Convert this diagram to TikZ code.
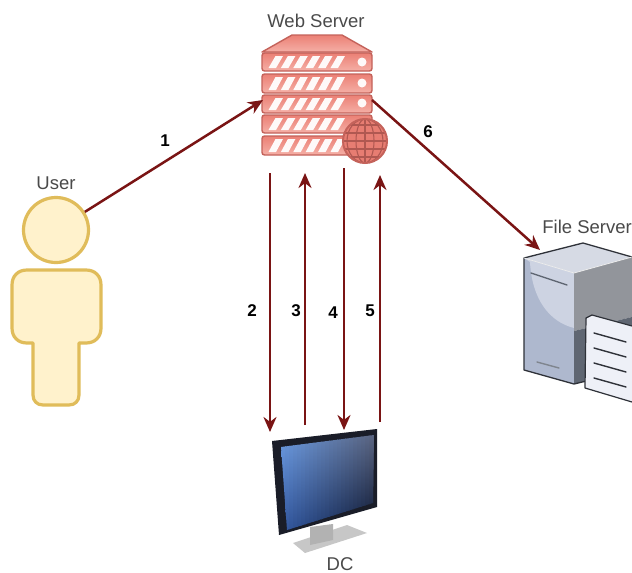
\documentclass[tikz,border=0pt]{standalone}
\usepackage{fontspec}
\setmainfont{Liberation Sans}
\usetikzlibrary{arrows.meta}
\definecolor{arrowred}{HTML}{7A1414}
\definecolor{srvtop}{HTML}{EB8075}
\definecolor{srvbot}{HTML}{F5AFA6}
\definecolor{srvline}{HTML}{C4625A}
\definecolor{usrfill}{HTML}{FFF2CC}
\definecolor{usrline}{HTML}{E0BC5A}
\definecolor{lbl}{HTML}{4A4A4A}
\definecolor{fstop}{HTML}{D6DAE4}
\definecolor{fsleft}{HTML}{AEB8CE}
\definecolor{fshigh}{HTML}{CDD3E2}
\definecolor{fsright}{HTML}{92959B}
\definecolor{fsdark}{HTML}{5F6672}
\definecolor{fsedge}{HTML}{2E3138}
\definecolor{paper}{HTML}{EEF0F7}
\definecolor{bezel}{HTML}{1A1D28}
\definecolor{scrUL}{HTML}{6C9BE0}
\definecolor{scrUR}{HTML}{5A6480}
\definecolor{scrLL}{HTML}{3358A0}
\definecolor{scrLR}{HTML}{0A1530}
\tikzset{
  flow/.style={draw=arrowred,line width=2.5pt,-{Stealth[length=15pt,width=13pt]}},
  lab/.style={text=lbl,font=\fontsize{18.5}{20}\selectfont,inner sep=0pt},
  num/.style={text=black,font=\fontsize{17}{20}\selectfont\bfseries,inner sep=0pt},
  slab/.style={draw=srvline,line width=1.4pt,rounded corners=2.5pt,top color=srvtop,bottom color=srvbot},
  usr/.style={draw=usrline,fill=usrfill,line width=3.2pt},
  ink/.style={draw=fsedge,line width=1.4pt,line cap=round},
}
\newcommand{\slabrow}[2]{%
  \draw[slab] (262,#1) rectangle (372,#2);
  \foreach \k in {0,...,5}
    \fill[white,opacity=.95] ({268.5+\k*12.4},#2-3) -- ({276+\k*12.4},#2-3) -- ({283+\k*12.4},#1+3) -- ({275.5+\k*12.4},#1+3) -- cycle;
}
\begin{document}
\begin{tikzpicture}[x=1pt,y=-1pt]
\useasboundingbox (0,0) rectangle (632,573);
\clip (0,0) rectangle (632,573);
\fill[white] (0,0) rectangle (632,573);
% User
\node[usr,circle,minimum size=65pt,inner sep=0pt] (userhead) at (56,230) {};
\draw[usr,line join=round] (33,343) -- (27,343) .. controls (18,343) and (12,337) .. (12,328) -- (12,285) .. controls (12,276) and (18,270) .. (27,270) -- (86,270) .. controls (95,270) and (101,276) .. (101,285) -- (101,328) .. controls (101,337) and (95,343) .. (86,343) -- (79,343) -- (79,395) .. controls (79,401) and (75,405) .. (69,405) -- (43,405) .. controls (37,405) and (33,401) .. (33,395) -- cycle;
\node[lab] (userlabel) at (56,183) {User};
% Web server
\draw[slab,sharp corners,line join=round] (262,52) -- (292,35) -- (342,35) -- (372,52) -- cycle;
\slabrow{53}{71}
\slabrow{74}{93}
\slabrow{95}{113}
\slabrow{115}{133}
\slabrow{136}{155}
\fill[white,opacity=.95] (362,62) circle (4.5) (362,83) circle (4.5) (362,103) circle (4.5);
\fill[srvtop!90!srvline] (365,141) circle (22);
\begin{scope}
  \clip (365,141) circle (22);
  \foreach \d in {-16,-8,0,8,16} \draw[srvline!90!black,line width=1.1pt] (343,141+\d) -- (387,141+\d);
  \draw[srvline!90!black,line width=1.1pt] (365,119) -- (365,163);
  \foreach \w in {9,18} \draw[srvline!90!black,line width=1.1pt] (365,141) ellipse ({\w} and 22);
\end{scope}
\draw[srvline,line width=2pt] (365,141) circle (22);
\node[lab] (weblabel) at (316,21) {Web Server};
\coordinate (webL) at (263,100);
\coordinate (webR) at (372,100);
% File server
\fill[fstop] (524,258) -- (583,243) -- (632,257) -- (574,273) -- cycle;
\fill[fsleft] (524,258) -- (574,273) -- (574,384) -- (524,370) -- cycle;
\fill[fshigh] (524,258) -- (574,273) -- (574,328) .. controls (550,322) and (532,300) .. (530,262) -- cycle;
\fill[fsright] (574,273) -- (632,257) -- (632,317) -- (574,331) -- cycle;
\fill[fsdark] (574,331) -- (632,317) -- (632,370) -- (574,384) -- cycle;
\draw[fsedge,line width=1.3pt,line join=round] (632,257) -- (583,243) -- (524,258) -- (524,370) -- (574,384) -- (632,370);
\draw[white!85!gray,line width=.8pt] (524,258) -- (574,273) -- (632,257);
\draw[ink,draw=fsdark] (531,273) -- (567,285);
\draw[ink,draw=fsdark!80] (537,362) -- (559,368);
\fill[paper] (586,319) -- (592,315) -- (632,326) -- (632,402) -- (585,388) -- cycle;
\draw[fsedge,line width=1.2pt,line join=round] (632,326) -- (592,315) -- (586,318) -- (585,388) -- (632,402);
\foreach \y in {333,348,363,378} \draw[ink] (594,\y) -- (626,{\y+9});
\node[lab,anchor=east] (filelabel) at (632,227) {File Server};
\coordinate (fileT) at (540,250);
% Monitor
\fill[black!22] (293,543) -- (347,525) -- (367,533) -- (305,553) -- cycle;
\fill[black!30] (310,527) -- (333,524) -- (333,540) -- (310,545) -- cycle;
\fill[bezel] (272,441) -- (377,429) -- (377,507) -- (279,535) -- cycle;
\begin{scope}
  \clip (281,447) -- (374,435) -- (373,503) -- (287,530) -- cycle;
  \foreach \i in {0,...,23} {
    \pgfmathtruncatemacro{\pct}{100-\i*100/23}
    \shade[top color=scrUL!\pct!scrUR,bottom color=scrLL!\pct!scrLR,draw=none]
      ({281+\i*4},435) rectangle ({281+\i*4+5},530);
  }
\end{scope}
\node[lab] (dclabel) at (340,564) {DC};
% Anchors of the vertical flows
\coordinate (w2) at (270,173);
\coordinate (d2) at (270,432);
\coordinate (d3) at (305,425);
\coordinate (w3) at (305,173);
\coordinate (w4) at (344,168);
\coordinate (d4) at (344,430);
\coordinate (d5) at (380,422);
\coordinate (w5) at (380,175);
% Connectors
\draw[flow] (userhead) -- (webL);
\draw[flow] (w2) -- (d2);
\draw[flow] (d3) -- (w3);
\draw[flow] (w4) -- (d4);
\draw[flow] (d5) -- (w5);
\draw[flow] (webR) -- (fileT);
% Numbers
\node[num] (n1) at (165,141) {1};
\node[num] (n2) at (252,311) {2};
\node[num] (n3) at (296,311) {3};
\node[num] (n4) at (333,313) {4};
\node[num] (n5) at (370,311) {5};
\node[num] (n6) at (428,132) {6};
\end{tikzpicture}
\end{document}
